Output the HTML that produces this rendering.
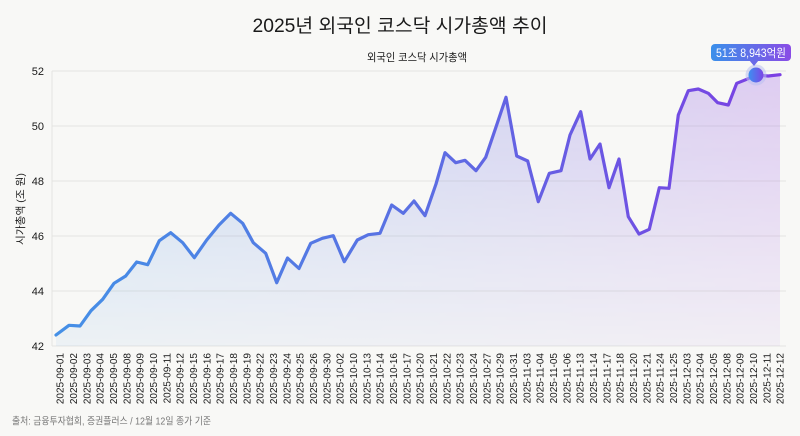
<!DOCTYPE html>
<html><head><meta charset="utf-8"><style>
html,body{margin:0;padding:0;background:#f8f8f6;}
svg{display:block;}
text{font-family:"Liberation Sans","Noto Sans CJK KR",sans-serif;}
</style></head><body>
<svg width="800" height="436" viewBox="0 0 800 436" xmlns="http://www.w3.org/2000/svg">
<defs>
<linearGradient id="lg" x1="56" y1="0" x2="780" y2="0" gradientUnits="userSpaceOnUse">
<stop offset="0" stop-color="#4590e6"/><stop offset="0.5" stop-color="#5b6fe3"/><stop offset="1" stop-color="#7b3fe3"/>
</linearGradient>
<linearGradient id="fg" x1="56" y1="0" x2="780" y2="0" gradientUnits="userSpaceOnUse">
<stop offset="0" stop-color="#5aa0ea"/><stop offset="0.5" stop-color="#7d8ce8"/><stop offset="1" stop-color="#a66ee8"/>
</linearGradient>
<linearGradient id="vg" x1="0" y1="70" x2="0" y2="346" gradientUnits="userSpaceOnUse">
<stop offset="0" stop-color="#fff" stop-opacity="0.32"/><stop offset="1" stop-color="#fff" stop-opacity="0.07"/>
</linearGradient>
<mask id="m" maskUnits="userSpaceOnUse" x="0" y="0" width="800" height="436"><rect x="0" y="0" width="800" height="436" fill="url(#vg)"/></mask>
<linearGradient id="tg" x1="0" y1="0" x2="1" y2="0"><stop offset="0" stop-color="#3a90ea"/><stop offset="1" stop-color="#8a4ce6"/></linearGradient>
<linearGradient id="mg" x1="0" y1="0" x2="1" y2="0"><stop offset="0" stop-color="#3d90f0"/><stop offset="1" stop-color="#7c45e6"/></linearGradient>
<linearGradient id="leg" x1="0" y1="0" x2="1" y2="0"><stop offset="0" stop-color="#4a95e8"/><stop offset="1" stop-color="#7d42e4"/></linearGradient>
</defs>

<text x="400" y="32" text-anchor="middle" font-size="19" fill="#1a1a1a" textLength="295" lengthAdjust="spacingAndGlyphs">2025년 외국인 코스닥 시가총액 추이</text>

<line x1="334" y1="57" x2="362" y2="57" stroke="url(#leg)" stroke-width="3.5" stroke-linecap="round"/>
<text x="367" y="61" font-size="11" fill="#1a1a1a" textLength="100" lengthAdjust="spacingAndGlyphs">외국인 코스닥 시가총액</text>

<g stroke="#e4e4e1" stroke-width="1">
<line x1="52" y1="71" x2="786" y2="71"/>
<line x1="52" y1="126" x2="786" y2="126"/>
<line x1="52" y1="181" x2="786" y2="181"/>
<line x1="52" y1="236" x2="786" y2="236"/>
<line x1="52" y1="291" x2="786" y2="291"/>
<line x1="52" y1="346" x2="786" y2="346"/>
<line x1="52" y1="71" x2="52" y2="346"/>
</g>
<g font-size="11" fill="#1a1a1a" text-anchor="end">
<text x="44" y="75">52</text>
<text x="44" y="130">50</text>
<text x="44" y="185">48</text>
<text x="44" y="240">46</text>
<text x="44" y="295">44</text>
<text x="44" y="350">42</text>
</g>
<text transform="translate(24,209) rotate(-90)" text-anchor="middle" font-size="10.5" fill="#1a1a1a" textLength="72" lengthAdjust="spacingAndGlyphs">시가총액 (조 원)</text>

<path mask="url(#m)" fill="url(#fg)" d="M56,335 L69,325.3 L80,326 L91,310.7 L102.7,299.3 L114,283.3 L125.7,276 L136.7,262 L147.7,264.7 L159.3,240.7 L170.7,232.7 L182.7,242.7 L194.3,257.7 L206.7,240 L219,225 L230.7,213.3 L242.7,223.3 L253.3,242.7 L265.7,253.3 L276.7,282.7 L287.5,258 L299,268.5 L310.7,243.3 L322.3,238.3 L333.3,235.7 L344.3,261.7 L357.3,240 L368.3,234.7 L380,233.3 L391.7,205 L403.3,213.3 L414,201 L425,215.7 L436,184 L445,152.7 L455.7,162.7 L465,160.3 L476,170.7 L485.7,157.3 L496,127 L506,97.3 L516.7,156 L527.7,161 L538.3,201.7 L549.3,173.3 L561,170.7 L570,135 L580.7,111.7 L590,159 L600,144 L609,187.7 L619,159 L628.3,216.7 L639,234 L649.3,229.3 L659.3,187.7 L669,188.3 L678.3,115 L688.3,90.7 L698.3,89 L708.3,93.3 L717.7,102.7 L728.3,105 L736.7,83.3 L746.7,79.3 L756.7,75 L768.3,76 L780,74.7 L780,346 L56,346 Z"/>

<polyline fill="none" stroke="url(#lg)" stroke-width="3.2" stroke-linejoin="round" stroke-linecap="round" points="56,335 69,325.3 80,326 91,310.7 102.7,299.3 114,283.3 125.7,276 136.7,262 147.7,264.7 159.3,240.7 170.7,232.7 182.7,242.7 194.3,257.7 206.7,240 219,225 230.7,213.3 242.7,223.3 253.3,242.7 265.7,253.3 276.7,282.7 287.5,258 299,268.5 310.7,243.3 322.3,238.3 333.3,235.7 344.3,261.7 357.3,240 368.3,234.7 380,233.3 391.7,205 403.3,213.3 414,201 425,215.7 436,184 445,152.7 455.7,162.7 465,160.3 476,170.7 485.7,157.3 496,127 506,97.3 516.7,156 527.7,161 538.3,201.7 549.3,173.3 561,170.7 570,135 580.7,111.7 590,159 600,144 609,187.7 619,159 628.3,216.7 639,234 649.3,229.3 659.3,187.7 669,188.3 678.3,115 688.3,90.7 698.3,89 708.3,93.3 717.7,102.7 728.3,105 736.7,83.3 746.7,79.3 756.7,75 768.3,76 780,74.7"/>

<circle cx="756" cy="75" r="10.5" fill="#b9c0f0" fill-opacity="0.55"/>
<circle cx="756" cy="75" r="7.5" fill="url(#mg)"/>

<rect x="711" y="44" width="80" height="17" rx="4" fill="url(#tg)"/>
<polygon points="749.5,60.5 758.5,60.5 754,66" fill="#6a6ae8"/>
<text x="751" y="56.8" text-anchor="middle" font-size="11.5" fill="#fff" textLength="70" lengthAdjust="spacingAndGlyphs">51조 8,943억원</text>

<g font-size="10" fill="#1a1a1a" text-anchor="end">
<text transform="translate(63.6,353) rotate(-90)">2025-09-01</text>
<text transform="translate(76.9,353) rotate(-90)">2025-09-02</text>
<text transform="translate(90.3,353) rotate(-90)">2025-09-03</text>
<text transform="translate(103.6,353) rotate(-90)">2025-09-04</text>
<text transform="translate(116.9,353) rotate(-90)">2025-09-05</text>
<text transform="translate(130.3,353) rotate(-90)">2025-09-08</text>
<text transform="translate(143.6,353) rotate(-90)">2025-09-09</text>
<text transform="translate(156.9,353) rotate(-90)">2025-09-10</text>
<text transform="translate(170.3,353) rotate(-90)">2025-09-11</text>
<text transform="translate(183.6,353) rotate(-90)">2025-09-12</text>
<text transform="translate(196.9,353) rotate(-90)">2025-09-15</text>
<text transform="translate(210.3,353) rotate(-90)">2025-09-16</text>
<text transform="translate(223.6,353) rotate(-90)">2025-09-17</text>
<text transform="translate(236.9,353) rotate(-90)">2025-09-18</text>
<text transform="translate(250.3,353) rotate(-90)">2025-09-19</text>
<text transform="translate(263.6,353) rotate(-90)">2025-09-22</text>
<text transform="translate(276.9,353) rotate(-90)">2025-09-23</text>
<text transform="translate(290.3,353) rotate(-90)">2025-09-24</text>
<text transform="translate(303.6,353) rotate(-90)">2025-09-25</text>
<text transform="translate(316.9,353) rotate(-90)">2025-09-26</text>
<text transform="translate(330.3,353) rotate(-90)">2025-09-30</text>
<text transform="translate(343.6,353) rotate(-90)">2025-10-02</text>
<text transform="translate(356.9,353) rotate(-90)">2025-10-10</text>
<text transform="translate(370.3,353) rotate(-90)">2025-10-13</text>
<text transform="translate(383.6,353) rotate(-90)">2025-10-14</text>
<text transform="translate(396.9,353) rotate(-90)">2025-10-16</text>
<text transform="translate(410.3,353) rotate(-90)">2025-10-17</text>
<text transform="translate(423.6,353) rotate(-90)">2025-10-20</text>
<text transform="translate(436.9,353) rotate(-90)">2025-10-21</text>
<text transform="translate(450.3,353) rotate(-90)">2025-10-22</text>
<text transform="translate(463.6,353) rotate(-90)">2025-10-23</text>
<text transform="translate(476.9,353) rotate(-90)">2025-10-24</text>
<text transform="translate(490.3,353) rotate(-90)">2025-10-27</text>
<text transform="translate(503.6,353) rotate(-90)">2025-10-29</text>
<text transform="translate(516.9,353) rotate(-90)">2025-10-31</text>
<text transform="translate(530.3,353) rotate(-90)">2025-11-03</text>
<text transform="translate(543.6,353) rotate(-90)">2025-11-04</text>
<text transform="translate(556.9,353) rotate(-90)">2025-11-05</text>
<text transform="translate(570.3,353) rotate(-90)">2025-11-06</text>
<text transform="translate(583.6,353) rotate(-90)">2025-11-13</text>
<text transform="translate(596.9,353) rotate(-90)">2025-11-14</text>
<text transform="translate(610.3,353) rotate(-90)">2025-11-17</text>
<text transform="translate(623.6,353) rotate(-90)">2025-11-18</text>
<text transform="translate(636.9,353) rotate(-90)">2025-11-20</text>
<text transform="translate(650.3,353) rotate(-90)">2025-11-21</text>
<text transform="translate(663.6,353) rotate(-90)">2025-11-24</text>
<text transform="translate(676.9,353) rotate(-90)">2025-11-25</text>
<text transform="translate(690.3,353) rotate(-90)">2025-12-03</text>
<text transform="translate(703.6,353) rotate(-90)">2025-12-04</text>
<text transform="translate(716.9,353) rotate(-90)">2025-12-05</text>
<text transform="translate(730.3,353) rotate(-90)">2025-12-08</text>
<text transform="translate(743.6,353) rotate(-90)">2025-12-09</text>
<text transform="translate(756.9,353) rotate(-90)">2025-12-10</text>
<text transform="translate(770.3,353) rotate(-90)">2025-12-11</text>
<text transform="translate(783.6,353) rotate(-90)">2025-12-12</text>
</g>

<text x="12" y="424.5" font-size="10" fill="#777" textLength="199" lengthAdjust="spacingAndGlyphs">출처: 금융투자협회, 증권플러스 / 12월 12일 종가 기준</text>
</svg>
</body></html>
